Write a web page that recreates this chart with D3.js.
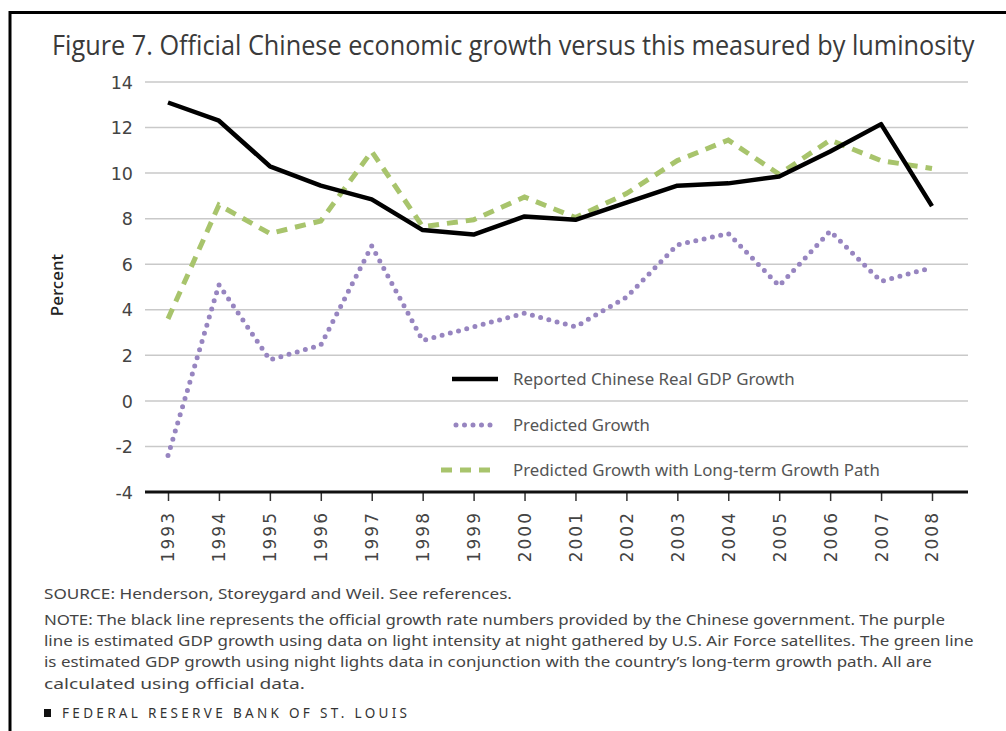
<!DOCTYPE html>
<html><head><meta charset="utf-8">
<script src="https://cdn.jsdelivr.net/npm/d3@7"></script>
<style>
body{margin:0;background:#fff;}
svg{display:block;}
</style></head>
<body>
<svg id="c" width="1006" height="731"></svg>
<script>
const years = [1993,1994,1995,1996,1997,1998,1999,2000,2001,2002,2003,2004,2005,2006,2007,2008];
const reported = [13.1,12.3,10.3,9.45,8.85,7.5,7.3,8.1,7.95,8.7,9.45,9.55,9.85,10.95,12.15,8.55];
const predicted = [-2.4,5.1,1.8,2.45,6.8,2.65,3.25,3.85,3.25,4.55,6.85,7.35,5.05,7.45,5.25,5.85];
const longTerm = [3.6,8.6,7.35,7.9,10.95,7.65,7.95,8.95,8.05,9.1,10.55,11.45,9.95,11.45,10.55,10.2];
const yTicks = [-4,-2,0,2,4,6,8,10,12,14];
const seriesNames = ["Reported Chinese Real GDP Growth","Predicted Growth","Predicted Growth with Long-term Growth Path"];
const titleText = "Figure 7. Official Chinese economic growth versus this measured by luminosity";
const sourceText = "SOURCE: Henderson, Storeygard and Weil. See references.";
const noteLines = [
 "NOTE: The black line represents the official growth rate numbers provided by the Chinese government. The purple",
 "line is estimated GDP growth using data on light intensity at night gathered by U.S. Air Force satellites. The green line",
 "is estimated GDP growth using night lights data in conjunction with the country\u2019s long-term growth path. All are",
 "calculated using official data."
];
const footerText = "FEDERAL RESERVE BANK OF ST. LOUIS";

const svg = d3.select("#c");
const font = "'Noto Sans', 'Open Sans', sans-serif";
const tickFont = "'DejaVu Sans', sans-serif";

function fitText(sel, x, yPos, width) {
  const len = sel.node().getComputedTextLength();
  const sx = width / len;
  sel.attr("transform", `translate(${x},${yPos}) scale(${sx},1)`);
  return sel;
}

// frame
svg.append("line").attr("x1",9).attr("x2",1006).attr("y1",12.5).attr("y2",12.5).attr("stroke","#000").attr("stroke-width",3);
svg.append("line").attr("x1",10).attr("x2",10).attr("y1",11).attr("y2",731).attr("stroke","#000").attr("stroke-width",3);

// title
const title = svg.append("text").attr("x",0).attr("y",0).attr("font-family","'Open Sans', sans-serif")
  .attr("font-size",27).attr("fill","#3a3a3a").text(titleText);
fitText(title, 52, 55, 923);

const x = d3.scaleLinear().domain([1993,2008]).range([168,932]);
const y = d3.scaleLinear().domain([-4,14]).range([492,82]);
const x0 = 145, x1 = 968;

// grid
svg.append("g").selectAll("line").data(yTicks.filter(d=>d>-4)).join("line")
  .attr("x1",x0).attr("x2",x1).attr("y1",d=>y(d)).attr("y2",d=>y(d))
  .attr("stroke","#c9c9c9").attr("stroke-width",1.5);

// y axis labels
const yAxis = d3.axisLeft(y).tickValues(yTicks).tickSize(0).tickPadding(0).tickFormat(d=>String(d));
const ya = svg.append("g").attr("transform","translate(133,0)").call(yAxis);
ya.select(".domain").remove();
ya.selectAll("text").attr("font-family",tickFont).attr("font-size",17.5).attr("fill","#444").attr("dy","0.35em");

// x axis
const xAxis = d3.axisBottom(x).tickValues(years).tickSize(9).tickPadding(10).tickFormat(d=>String(d));
const xa = svg.append("g").attr("transform","translate(0,492)").call(xAxis);
xa.select(".domain").remove();
xa.selectAll(".tick line").attr("stroke","#333").attr("stroke-width",1.5);
xa.selectAll("text").attr("font-family",tickFont).attr("font-size",17).attr("fill","#444")
  .attr("letter-spacing","2px")
  .attr("transform","rotate(-90)").attr("text-anchor","end").attr("x",-19).attr("y",0).attr("dy","0.35em");
svg.append("line").attr("x1",x0).attr("x2",x1).attr("y1",y(-4)).attr("y2",y(-4)).attr("stroke","#111").attr("stroke-width",3);

// y title
svg.append("text").attr("transform","translate(63,285) rotate(-90)").attr("text-anchor","middle")
  .attr("font-family",font).attr("font-size",17).attr("font-weight",500).attr("fill","#222").text("Percent");

// lines
const line = vals => d3.line().x((d,i)=>x(years[i])).y(d=>y(d))(vals);
svg.append("path").attr("d",line(predicted)).attr("fill","none").attr("stroke","#9785c0")
  .attr("stroke-width",5).attr("stroke-linecap","round").attr("stroke-dasharray","0,8.5");
svg.append("path").attr("d",line(longTerm)).attr("fill","none").attr("stroke","#a8c46c")
  .attr("stroke-width",5).attr("stroke-dasharray","11,8");
svg.append("path").attr("d",line(reported)).attr("fill","none").attr("stroke","#000")
  .attr("stroke-width",4.5).attr("stroke-linejoin","round");

// legend
const leg = [
  {y:379, stroke:"#000", w:4.5, dash:null, cap:"butt", x1:452, tw:282},
  {y:425, stroke:"#9785c0", w:5, dash:"0,8.5", cap:"round", x1:456, tw:137},
  {y:470, stroke:"#a8c46c", w:5, dash:"11,8", cap:"butt", x1:441, tw:367}
];
leg.forEach((l,i)=>{
  svg.append("line").attr("x1",l.x1).attr("x2",498).attr("y1",l.y).attr("y2",l.y)
    .attr("stroke",l.stroke).attr("stroke-width",l.w).attr("stroke-linecap",l.cap)
    .attr("stroke-dasharray",l.dash);
  const t = svg.append("text").attr("dy","0.35em").attr("font-family",font)
    .attr("font-size",16).attr("fill","#555").text(seriesNames[i]);
  fitText(t, 513, l.y, l.tw);
});

// notes
const noteFont = "'Noto Sans', sans-serif";
const src = svg.append("text").attr("font-family",noteFont).attr("font-size",15)
  .attr("fill","#444").text(sourceText);
fitText(src, 44, 599, 468);
const noteW = [902,930,888,261];
const noteY = [625,646,667,689];
noteLines.forEach((t,i)=>{
  const n = svg.append("text").attr("font-family",noteFont).attr("font-size",15)
    .attr("fill","#444").text(t);
  fitText(n, 44, noteY[i], noteW[i]);
});
svg.append("rect").attr("x",44).attr("y",709).attr("width",7).attr("height",8).attr("fill","#111");
svg.append("text").attr("x",62).attr("y",718).attr("font-family",font).attr("font-size",13.5)
  .attr("fill","#333").attr("textLength",345).attr("lengthAdjust","spacing").text(footerText);
</script>
</body></html>
